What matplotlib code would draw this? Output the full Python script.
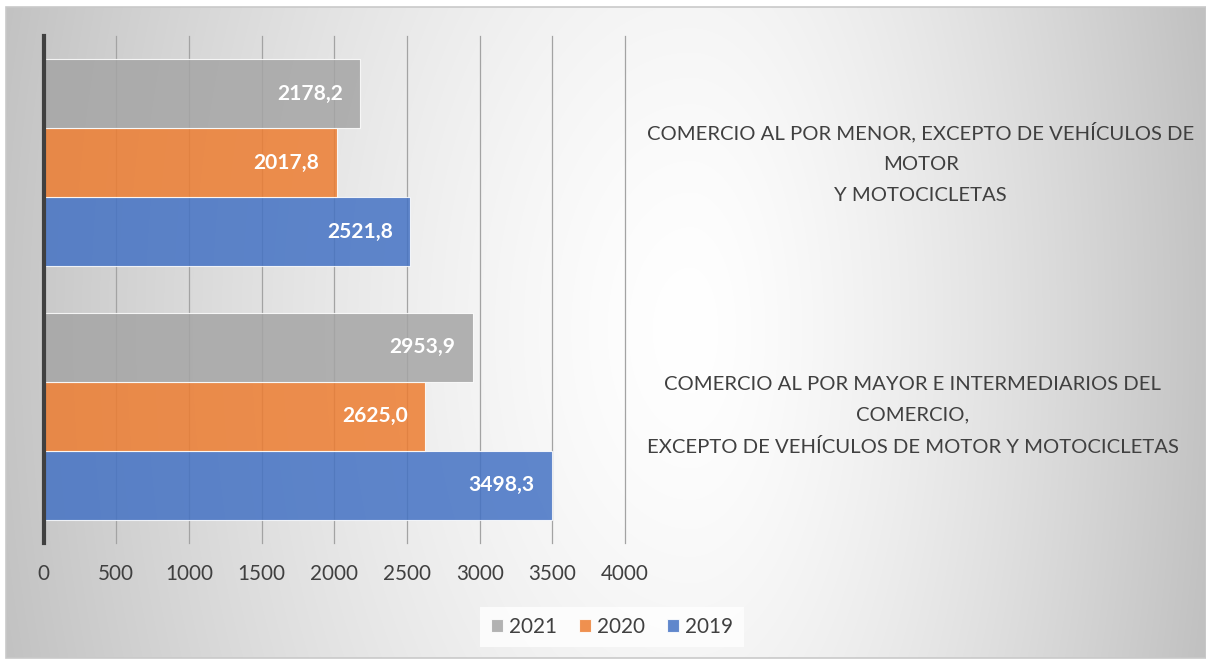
import numpy as np
import matplotlib
matplotlib.use("Agg")
import matplotlib.pyplot as plt
from matplotlib.transforms import blended_transform_factory
from matplotlib.patches import Rectangle
from matplotlib.font_manager import FontProperties

# ---- data ----
categories = [
    "COMERCIO AL POR MAYOR E INTERMEDIARIOS DEL\nCOMERCIO,\nEXCEPTO DE VEHÍCULOS DE MOTOR Y MOTOCICLETAS",
    "COMERCIO AL POR MENOR, EXCEPTO DE VEHÍCULOS DE\nMOTOR\nY MOTOCICLETAS",
]
series_names = ["2019", "2020", "2021"]
values_2019 = [3498.3, 2521.8]
values_2020 = [2625.0, 2017.8]
values_2021 = [2953.9, 2178.2]
x_ticks = [0, 500, 1000, 1500, 2000, 2500, 3000, 3500, 4000]

colors = {"2019": "#4472C4", "2020": "#ED7D31", "2021": "#A5A5A5"}
FONT = "Lato"
TXT = "#404040"

W, H = 1206, 659
fig = plt.figure(figsize=(W / 100, H / 100), dpi=100)
fig.patch.set_facecolor("white")
renderer = fig.canvas.get_renderer()


def fit_size(text, target_px, base=15.0, weight="normal"):
    fp = FontProperties(family=FONT, size=base, weight=weight)
    w, _, _ = renderer.get_text_width_height_descent(text, fp, ismath=False)
    return base * target_px / w


# ---- background gradient chart area ----
bx0, by0, bx1, by1 = 6, 7, 1206, 658
bg = fig.add_axes([bx0 / W, 1 - by1 / H, (bx1 - bx0) / W, (by1 - by0) / H])
xs = np.arange(bx0, bx1)
ys = np.arange(by0, by1)
XX, YY = np.meshgrid(xs, ys)
cx, cy = 690, 330
dx = np.where(XX < cx, (XX - cx) / 720.0, (XX - cx) / 530.0)
dy = (YY - cy) / 1200.0
r = np.clip(np.sqrt(dx ** 2 + dy ** 2), 0, 1)
val = (255 - 62 * r ** 1.4) / 255.0
img = np.dstack([val, val, val])
bg.imshow(img, aspect="auto", extent=[0, 1, 0, 1], interpolation="bilinear")
bg.set_xlim(0, 1)
bg.set_ylim(0, 1)
bg.axis("off")
fig.add_artist(Rectangle((bx0 / W, 1 - by1 / H), (bx1 - bx0) / W, (by1 - by0) / H,
                         transform=fig.transFigure, fill=False, edgecolor="#C9C9C9", lw=1.2))

# ---- main axes ----
ax_l, ax_r, ax_t, ax_b = 43.5, 625, 36, 543
ax = fig.add_axes([ax_l / W, 1 - ax_b / H, (ax_r - ax_l) / W, (ax_b - ax_t) / H])
ax.set_facecolor("none")
ax.set_xlim(0, 4000)
ax.set_ylim(-0.5, 1.5)

ypos = np.arange(len(categories))
h = 0.272
offsets = {"2019": -h, "2020": 0.0, "2021": h}
vals = {"2019": values_2019, "2020": values_2020, "2021": values_2021}

for x in x_ticks[1:]:
    ax.axvline(x, color="#A3A3A3", lw=0.9, zorder=1, clip_on=False)

lab_size = fit_size("2178,2", 66, weight="bold")
for name in series_names:
    ax.barh(ypos + offsets[name], vals[name], height=h, color=colors[name], alpha=0.85,
            edgecolor=(1, 1, 1, 0.6), linewidth=0.8, zorder=2, label=name)
    for yy, v in zip(ypos + offsets[name], vals[name]):
        ax.annotate(f"{v:.1f}".replace(".", ","), xy=(v, yy), xytext=(-12.5, 0),
                    textcoords="offset points", ha="right", va="center",
                    color="white", fontweight="bold", fontsize=lab_size, family=FONT, zorder=3)

for s in ["top", "right", "bottom"]:
    ax.spines[s].set_visible(False)
ax.spines["left"].set_color("#404040")
ax.spines["left"].set_linewidth(3.0)
ax.spines["left"].set_zorder(4)

tick_size = fit_size("4000", 48)
ax.set_xticks(x_ticks)
ax.set_xticklabels([str(t) for t in x_ticks], family=FONT, fontsize=tick_size, color=TXT)
ax.tick_params(axis="x", length=0, pad=15)
ax.set_yticks([])

# category labels on the right
cat_size = fit_size("COMERCIO AL POR MENOR, EXCEPTO DE VEHÍCULOS DE", 546)
trans = blended_transform_factory(fig.transFigure, ax.transData)
for yy, lab in zip(ypos, categories):
    ax.text(647 / W, yy, lab, transform=trans, ha="left", va="center", multialignment="center",
            family=FONT, fontsize=cat_size, color=TXT, linespacing=1.98)

# legend
handles, labels = ax.get_legend_handles_labels()
order = [2, 1, 0]
leg = fig.legend([handles[i] for i in order], [labels[i] for i in order],
                 loc="center", bbox_to_anchor=(612 / W, 1 - 627 / H), ncol=3,
                 prop=FontProperties(family=FONT, size=tick_size), handlelength=0.6, handleheight=0.6,
                 handletextpad=0.3, columnspacing=1.05, frameon=True, fancybox=False,
                 borderpad=0.5)
leg.get_frame().set_facecolor((1, 1, 1, 0.3))
leg.get_frame().set_edgecolor("none")
for t in leg.get_texts():
    t.set_color(TXT)

fig.savefig("out.png", dpi=100)
